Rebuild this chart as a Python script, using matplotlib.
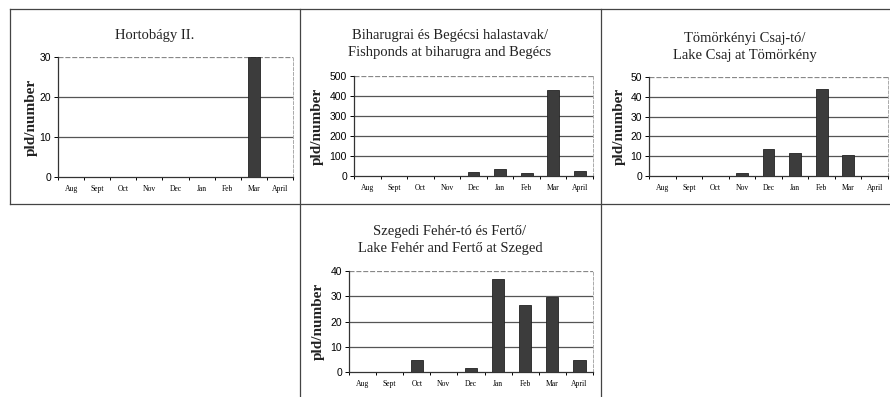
import matplotlib
matplotlib.use("Agg")
import matplotlib.pyplot as plt
from matplotlib.lines import Line2D
import numpy as np

months = ["Aug", "Sept", "Oct", "Nov", "Dec", "Jan", "Feb", "Mar", "April"]

hortobagy = [0, 0, 0, 0, 0, 0, 0, 30, 0]
biharugra = [0, 0, 0, 0, 22, 33, 17, 432, 27]
tomorkeny = [0, 0, 0, 1.4, 13.6, 11.5, 43.7, 10.5, 0]
szeged = [0, 0, 4.6, 0, 1.7, 36.8, 26.4, 29.6, 4.6]

titles = [
    "Hortobágy II.",
    "Biharugrai és Begécsi halastavak/\nFishponds at biharugra and Begécs",
    "Tömörkényi Csaj-tó/\nLake Csaj at Tömörkény",
    "Szegedi Fehér-tó és Fertő/\nLake Fehér and Fertő at Szeged",
]
ymaxes = [30, 500, 50, 40]
ysteps = [10, 100, 10, 10]

W, H = 890, 397
fig = plt.figure(figsize=(W / 100, H / 100), dpi=100)
fig.patch.set_facecolor("white")

def fx(px):
    return px / W

def fy(py):
    return 1 - py / H

# panel layout in pixels: (plot left, right, top, bottom, title center x, title center y, ylabel x)
layouts = [
    (58, 293, 57, 177, 155, 36, 31),
    (354, 593, 76, 176, 450, 44, 317),
    (649, 888, 77, 176, 745, 47, 619),
    (349, 593, 271, 372, 450, 240, 318),
]

serif = "Liberation Serif"
sans = "Liberation Sans"
bar_color = "#3c3c3c"

for data, title, ymax, ystep, (l, r, t, b, tx, ty, lx) in zip(
        [hortobagy, biharugra, tomorkeny, szeged], titles, ymaxes, ysteps, layouts):
    ax = fig.add_axes([fx(l), fy(b), fx(r) - fx(l), fy(t) - fy(b)])
    x = np.arange(len(months))
    ax.bar(x, data, width=0.45, color=bar_color, edgecolor="#222222", linewidth=0.6, zorder=3)
    ax.set_xlim(-0.5, len(months) - 0.5)
    ax.set_ylim(0, ymax)
    yt = np.arange(0, ymax + ystep / 2, ystep)
    ax.set_yticks(yt)
    for v in yt[1:-1]:
        ax.axhline(v, color="#555555", linewidth=0.9, zorder=1)
    ax.axhline(ymax, color="#888888", linewidth=0.9, linestyle=(0, (4, 1.5)), zorder=1)
    ax.set_xticks(x)
    ax.set_xticklabels(months, fontfamily=serif, fontsize=5.5)
    ax.set_xticks(np.arange(-0.5, len(months), 1), minor=True)
    ax.tick_params(axis="x", which="major", length=0, pad=6)
    ax.tick_params(axis="x", which="minor", length=2.5, direction="out", width=0.7)
    ax.tick_params(axis="y", length=3, width=0.7, direction="out", pad=2, labelsize=7.5)
    for lab in ax.get_yticklabels():
        lab.set_fontfamily(sans)
    ax.spines["top"].set_visible(False)
    ax.spines["right"].set_color("#aaaaaa")
    ax.spines["right"].set_linestyle((0, (3, 2)))
    ax.spines["right"].set_linewidth(0.7)
    ax.spines["left"].set_color("#333333")
    ax.spines["bottom"].set_color("#333333")
    ax.spines["left"].set_linewidth(0.9)
    ax.spines["bottom"].set_linewidth(0.9)
    fig.text(fx(tx), fy(ty), title, ha="center", va="center", fontfamily=serif,
             fontsize=10.5, linespacing=1.45, color="#222222")
    fig.text(fx(lx), fy((t + b) / 2), "pld/number", ha="center", va="center",
             rotation=90, fontfamily=serif, fontweight="bold", fontsize=11, color="#222222")

# panel borders
border_kw = dict(color="#444444", linewidth=0.9, transform=fig.transFigure)
segments = [
    ((10, 9), (890, 9)),
    ((10, 204), (890, 204)),
    ((10, 9), (10, 204)),
    ((300, 9), (300, 397)),
    ((601, 9), (601, 397)),
]
for (x0, y0), (x1, y1) in segments:
    fig.add_artist(Line2D([fx(x0), fx(x1)], [fy(y0), fy(y1)], **border_kw))

fig.savefig("out.png", dpi=100)
